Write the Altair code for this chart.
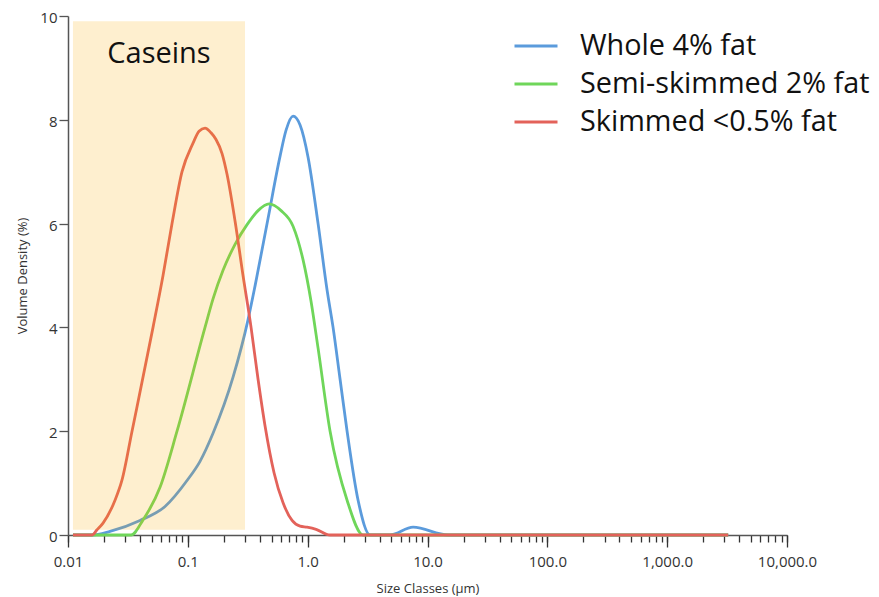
import altair as alt
import pandas as pd

# ---- data ----
series_names = ["Whole 4% fat", "Semi-skimmed 2% fat", "Skimmed <0.5% fat"]
series_colors = ["#5B9BDC", "#6FD65A", "#E3625A"]

whole_size = [0.011, 0.01585, 0.02242, 0.0399, 0.06452, 0.09847, 0.1264, 0.1623, 0.2384, 0.3181,
              0.3639, 0.467, 0.5886, 0.6604, 0.7551, 0.8643, 1.0077, 1.2214, 1.4518, 1.6293,
              1.8641, 2.1328, 2.6346, 3.3189, 4.8731, 7.5822, 14.86, 3231]
whole_vol = [0, 0, 0.07, 0.28, 0.55, 1.05, 1.42, 1.96, 3.04, 4.15,
             4.8, 6.1, 7.3, 7.8, 8.07, 7.9, 7.28, 6.0, 4.72, 4.0,
             3.0, 2.0, 0.67, 0, 0, 0.15, 0, 0]

semi_size = [0.011, 0.03357, 0.04227, 0.0586, 0.08124, 0.1391, 0.1623, 0.1967, 0.2477, 0.312,
             0.3855, 0.476, 0.5998, 0.7551, 0.9155, 1.0676, 1.2214, 1.5382, 2.1328, 2.9007, 3231]
semi_vol = [0, 0, 0.29, 0.92, 2.0, 4.0, 4.55, 5.1, 5.6, 5.98,
            6.25, 6.38, 6.25, 5.95, 5.3, 4.5, 3.6, 2.0, 0.67, 0, 0]

skim_size = [0.011, 0.01585, 0.01747, 0.0196, 0.02468, 0.02824, 0.03422, 0.05123, 0.06209, 0.07381,
             0.08945, 0.1105, 0.124, 0.1391, 0.1562, 0.1719, 0.193, 0.2124, 0.2477, 0.2888,
             0.337, 0.3855, 0.441, 0.5241, 0.6233, 0.741, 0.8643, 0.9886, 1.1754, 1.5382, 3231]
skim_vol = [0, 0, 0.1, 0.23, 0.67, 1.06, 2.0, 4.0, 5.0, 6.0,
            7.0, 7.55, 7.78, 7.84, 7.75, 7.62, 7.35, 6.95, 6.05, 5.0,
            4.0, 3.0, 2.1, 1.2, 0.62, 0.28, 0.17, 0.15, 0.11, 0, 0]

casein_label = "Caseins"
casein_size = [0.011, 0.3]
casein_vol = [0.1, 9.9]
casein_label_vol = 9.27

y_ticks = [0, 2, 4, 6, 8, 10]
x_minor_ticks = [k * 10.0 ** e for e in range(-2, 4) for k in range(1, 10)] + [10000.0]
x_major_ticks = [0.01, 0.1, 1.0, 10.0, 100.0, 1000.0, 10000.0]

# ---- tables ----
rows = []
for name, sizes, vols in zip(series_names, [whole_size, semi_size, skim_size],
                             [whole_vol, semi_vol, skim_vol]):
    for s, v in zip(sizes, vols):
        rows.append({"series": name, "size": s, "vol": v})
lines_df = pd.DataFrame(rows)

rect_df = pd.DataFrame([{"x": casein_size[0], "x2": casein_size[1],
                         "y": casein_vol[0], "y2": casein_vol[1]}])
text_df = pd.DataFrame([{"x": (casein_size[0] * casein_size[1]) ** 0.5,
                         "y": casein_label_vol, "label": casein_label}])

FONT = "Open Sans"
AX_COL = "#555555"

x_scale = alt.Scale(type="log", domain=[0.01, 10000], nice=False)
y_scale = alt.Scale(domain=[0, 10], nice=False)

label_expr = ("abs(log(datum.value)/LN10 - round(log(datum.value)/LN10)) < 1e-6 ? "
              "(datum.value < 0.05 ? '0.01' : (datum.value < 0.5 ? '0.1' : format(datum.value, ',.1f'))) : ''")

x_axis = alt.Axis(values=x_minor_ticks, labelExpr=label_expr, title="Size Classes (µm)",
                  orient="bottom",
                  labelOverlap=False, labelFlush=False, grid=False, tickSize=7,
                  labelPadding=12, labelFontSize=15, labelColor="#333333",
                  titleFontSize=13, titleFontWeight="normal", titleColor="#333333",
                  titleY=53, titleBaseline="middle",
                  domainColor=AX_COL, domainWidth=1.5, tickColor="#333333", tickWidth=1.3)
x_axis_major = alt.Axis(values=x_major_ticks, orient="bottom", labels=False, domain=False,
                        grid=False, title=None, tickSize=12, tickColor="#333333", tickWidth=1.3)
y_axis = alt.Axis(values=y_ticks, title="Volume Density (%)", grid=False,
                  tickSize=9, labelPadding=2, labelFontSize=15, labelColor="#333333",
                  labelOffset=1.5,
                  titleFontSize=13, titleFontWeight="normal", titleColor="#333333",
                  titleX=-46, titleBaseline="middle", domainColor=AX_COL, domainWidth=1.5,
                  tickColor=AX_COL, tickWidth=1.3)

lines = alt.Chart(lines_df).mark_line(interpolate="monotone", strokeWidth=2.8).encode(
    x=alt.X("size:Q", scale=x_scale, axis=x_axis),
    y=alt.Y("vol:Q", scale=y_scale, axis=y_axis),
    color=alt.Color("series:N", scale=alt.Scale(domain=series_names, range=series_colors),
                    sort=series_names,
                    legend=alt.Legend(title=None, orient="none", legendX=445, legendY=7,
                                      labelFontSize=28.8, labelFont=FONT, labelColor="#111111",
                                      labelLimit=0,
                                      symbolType="stroke", symbolSize=1849, symbolStrokeWidth=3,
                                      labelOffset=21, rowPadding=-1.5, padding=0)),
    detail="series:N",
)

rect = alt.Chart(rect_df).mark_rect(color="#FAAB00", opacity=0.19).encode(
    x=alt.X("x:Q", scale=x_scale, axis=x_axis_major), x2="x2:Q",
    y=alt.Y("y:Q", scale=y_scale), y2="y2:Q")

text = alt.Chart(text_df).mark_text(fontSize=29, font=FONT, color="#111111").encode(
    x=alt.X("x:Q", scale=x_scale, axis=None),
    y=alt.Y("y:Q", scale=y_scale), text="label:N")

chart = alt.layer(lines, rect, text).resolve_axis(x="independent").properties(
    width=719, height=519,
    autosize=alt.AutoSizeParams(type="none"),
    padding={"left": 60, "top": 8, "right": 84, "bottom": 62},
).configure(font=FONT).configure_view(stroke=None)

chart.save("out.html", embed_options={"renderer": "svg", "actions": False})
